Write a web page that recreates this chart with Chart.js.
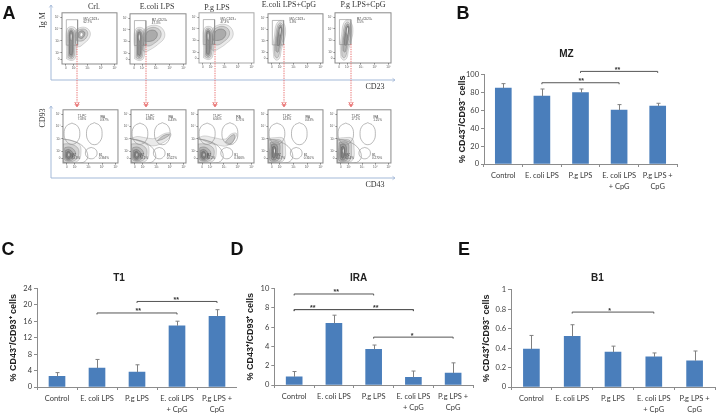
<!DOCTYPE html>
<html><head><meta charset="utf-8">
<script src="https://cdn.jsdelivr.net/npm/chart.js@4"></script>
<style>
html,body{margin:0;padding:0;background:#fff;width:716px;height:417px;overflow:hidden}
#page{position:relative;width:716px;height:417px;filter:blur(.45px)}
canvas{position:absolute}
.t{position:absolute;transform:translate(-50%,-50%);white-space:nowrap;line-height:1}
.s{font-family:"Liberation Serif",serif;font-size:8px;color:#333}
.l{font-family:"Liberation Sans",sans-serif;font-size:18px;font-weight:bold;color:#111}
.r{transform:translate(-50%,-50%) rotate(-90deg)}
svg{position:absolute;left:0;top:0}
</style></head><body><div id="page"></div>
<script>
// ---- bar chart data ----
const categories=["Control","E. coli LPS","P.g LPS",["E. coli LPS","+ CpG"],["P.g LPS +","CpG"]];
const valuesMZ=[85,76,80,60.5,65];
const errorMZ=[5,8,4,6,3];
const ticksMZ=[0,20,40,60,80,100];
const valuesT1=[2.6,4.6,3.6,14.9,17.2];
const errorT1=[0.9,2.1,1.8,1.1,1.6];
const ticksT1=[0,4,8,12,16,20,24];
const valuesIRA=[0.85,6.4,3.7,0.8,1.25];
const errorIRA=[0.55,0.85,0.45,0.65,1.05];
const ticksIRA=[0,2,4,6,8,10];
const valuesB1=[0.39,0.52,0.36,0.31,0.27];
const errorB1=[0.14,0.12,0.06,0.04,0.1];
const ticksB1=[0,0.2,0.4,0.6,0.8,1];
const bracketsMZ=[[1,3,91,2.02,"**"],[2,4,103.7,2.96,"**"]];
const bracketsT1=[[1,3,18,2.03,"**"],[2,4,20.8,2.98,"**"]];
const bracketsIRA=[[0,2,9.45,1.06,"**"],[0,3,7.83,0.47,"**"],[0,3,7.83,2.05,"**"],[2,4,4.97,2.97,"*"]];
const bracketsB1=[[1,3,0.77,1.92,"*"]];
// ---- flow cytometry contours, in decades of fluorescence ----
const columnContours=[
 [[1.45,1.5],[1.45,2.4],[1.42,3.2],[1.5,4.0],[1.8,4.2],[2.15,4.0],[2.25,3.2],[2.2,2.4],[2.1,1.55],[1.8,1.35],[1.45,1.5]],
 [[1.55,1.6],[1.55,2.4],[1.53,3.2],[1.6,3.9],[1.8,4.05],[2.05,3.85],[2.12,3.2],[2.08,2.4],[2.0,1.65],[1.8,1.48],[1.55,1.6]],
 [[1.63,1.75],[1.63,2.4],[1.62,3.2],[1.66,3.8],[1.8,3.93],[1.95,3.75],[1.99,3.2],[1.97,2.4],[1.93,1.8],[1.8,1.62],[1.63,1.75]],
 [[1.68,1.9],[1.68,2.6],[1.67,3.3],[1.7,3.7],[1.8,3.82],[1.9,3.65],[1.92,3.2],[1.9,2.5],[1.88,1.95],[1.8,1.78],[1.68,1.9]]];
const columnCore=[[1.77,3.15],[1.76,3.45],[1.8,3.62],[1.84,3.45],[1.83,3.15],[1.8,3.0],[1.77,3.15]];
const lobeSmall=[
 [[2.1,2.8],[2.1,3.8],[2.4,4.1],[2.9,4.1],[3.2,3.7],[3.1,3.2],[2.7,2.75],[2.35,2.5],[2.1,2.8]],
 [[2.2,3.0],[2.2,3.75],[2.5,3.98],[2.85,3.95],[3.02,3.65],[2.9,3.25],[2.6,3.0],[2.2,3.0]],
 [[2.32,3.3],[2.35,3.7],[2.6,3.85],[2.8,3.7],[2.75,3.4],[2.55,3.2],[2.32,3.3]]];
const lobeCore=[[2.45,3.5],[2.52,3.68],[2.64,3.62],[2.62,3.42],[2.5,3.38],[2.45,3.5]];
const lobeLarge=[
 [[2.0,2.3],[2.1,3.9],[2.5,4.3],[3.1,4.35],[3.55,3.95],[3.6,3.3],[3.1,2.7],[2.6,2.3],[2.2,2.1],[2.0,2.3]],
 [[2.1,2.7],[2.2,3.8],[2.55,4.15],[3.05,4.15],[3.35,3.8],[3.3,3.3],[2.9,2.85],[2.5,2.6],[2.1,2.7]],
 [[2.2,3.0],[2.3,3.7],[2.6,3.95],[2.95,3.9],[3.1,3.6],[2.95,3.2],[2.6,3.0],[2.2,3.0]]];
const tallContours=[
 [[1.55,1.5],[1.5,2.5],[1.6,3.5],[1.72,4.4],[2.0,4.75],[2.3,4.5],[2.42,3.8],[2.3,3.0],[2.1,2.2],[1.98,1.5],[1.75,1.3],[1.55,1.5]],
 [[1.62,1.7],[1.6,2.5],[1.7,3.5],[1.82,4.3],[2.02,4.58],[2.22,4.35],[2.3,3.8],[2.2,3.0],[2.02,2.3],[1.9,1.65],[1.75,1.5],[1.62,1.7]],
 [[1.7,2.1],[1.7,2.8],[1.8,3.6],[1.9,4.2],[2.04,4.4],[2.15,4.2],[2.18,3.7],[2.08,3.0],[1.95,2.4],[1.85,2.0],[1.7,2.1]],
 [[1.8,2.6],[1.82,3.2],[1.92,3.8],[2.0,4.2],[2.08,4.22],[2.1,3.8],[2.02,3.2],[1.94,2.6],[1.8,2.6]]];
const tallCore=[[1.97,3.7],[2.0,4.1],[2.06,4.08],[2.05,3.7],[2.0,3.45],[1.97,3.7]];
const blobContours=[
 [[1.12,3.0],[1.7,2.9],[2.3,2.6],[2.45,2.0],[2.25,1.25],[1.5,1.05],[1.12,1.1],[1.12,3.0]],
 [[1.12,2.6],[1.6,2.6],[2.15,2.35],[2.3,1.9],[2.1,1.35],[1.5,1.12],[1.12,1.2],[1.12,2.6]],
 [[1.25,2.3],[1.6,2.35],[1.95,2.1],[2.05,1.75],[1.85,1.35],[1.45,1.22],[1.22,1.4],[1.25,2.3]],
 [[1.32,2.1],[1.55,2.15],[1.8,1.95],[1.85,1.65],[1.7,1.4],[1.45,1.32],[1.3,1.5],[1.32,2.1]],
 [[1.4,1.95],[1.55,2.0],[1.68,1.8],[1.68,1.55],[1.52,1.42],[1.38,1.55],[1.4,1.95]]];
const blobCore=[[1.5,1.7],[1.55,1.86],[1.6,1.72],[1.56,1.58],[1.5,1.7]];
const squareContours=[
 [[1.12,3.05],[1.6,3.1],[2.25,3.05],[2.4,2.3],[2.3,1.3],[1.6,1.05],[1.12,1.1],[1.12,3.05]],
 [[1.15,2.9],[1.6,2.95],[2.1,2.85],[2.2,2.2],[2.1,1.3],[1.6,1.12],[1.15,1.18],[1.15,2.9]],
 [[1.28,2.7],[1.6,2.78],[1.95,2.65],[2.0,2.0],[1.9,1.35],[1.55,1.2],[1.25,1.3],[1.28,2.7]],
 [[1.38,2.55],[1.6,2.6],[1.8,2.45],[1.82,1.9],[1.72,1.4],[1.5,1.3],[1.35,1.45],[1.38,2.55]],
 [[1.45,2.35],[1.6,2.4],[1.7,2.2],[1.68,1.7],[1.58,1.45],[1.45,1.55],[1.45,2.35]]];
const squareCore=[[1.55,2.05],[1.6,2.25],[1.64,2.05],[1.6,1.8],[1.55,2.05]];
const streakWide=[
 [[1.12,3.05],[1.9,2.75],[2.6,2.45],[3.3,2.6],[3.95,3.1],[4.05,3.45],[3.6,3.45],[2.9,3.05],[2.2,3.1],[1.6,3.2],[1.12,3.05]],
 [[3.05,2.85],[3.5,3.0],[3.95,3.35],[3.55,3.3],[3.05,2.85]]];
const streakNarrow=[
 [[1.12,3.1],[1.9,2.7],[2.6,2.5],[3.2,2.45],[3.75,2.95],[3.9,3.45],[3.5,3.4],[3.1,3.0],[2.3,3.1],[1.6,3.25],[1.12,3.1]],
 [[3.1,2.75],[3.5,2.6],[3.75,3.0],[3.75,3.35],[3.4,3.15],[3.1,2.75]]];
const gateRect=[[1.44,2.64],[1.44,4.78],[2.27,4.78],[2.27,2.64],[1.44,2.64]];
const gateT1=[[1.78,4.29],[2.19,4.04],[2.36,3.43],[2.19,2.82],[1.78,2.57],[1.37,2.82],[1.2,3.43],[1.37,4.04],[1.78,4.29]];
const gateIRA=[[3.43,4.32],[3.84,4.06],[4.0,3.43],[3.84,2.8],[3.43,2.54],[3.02,2.8],[2.85,3.43],[3.02,4.06],[3.43,4.32]];
const gateB1=[[3.2,2.32],[3.5,2.18],[3.63,1.86],[3.5,1.54],[3.2,1.4],[2.9,1.54],[2.77,1.86],[2.9,2.18],[3.2,2.32]];
const gateMZ=[[1.12,3.0],[1.8,2.85],[2.6,2.4],[2.95,1.6],[2.6,1.1],[1.7,1.05],[1.12,1.1]];
const flowTicksX=[1.41,2,3,4,5];
const flowTicksY=[1.44,2,3,4,5];
const flowTickLabels=["0","10²","10³","10⁴","10⁵"];
const topLabels=["62.7%","47.3%","47.3%","5.8%","3.5%"];
const t1Labels=["7.03%","6.88%","6.06%","14.8%","17.1%"];
const iraLabels=["0.97%","6.43%","3.71%","0.83%","1.25%"];
const mzLabels=["85.3%","76.1%","80.2%","60.7%","65.4%"];
const b1Labels=["0.394%","0.522%","0.366%","0.310%","0.270%"];

Chart.defaults.animation=false;
Chart.defaults.responsive=false;
const page=document.getElementById('page');
function addCanvas(l,t,w,h){
  const c=document.createElement('canvas');c.width=w;c.height=h;
  c.style.cssText=`left:${l}px;top:${t}px;width:${w}px;height:${h}px`;
  page.appendChild(c);return c;
}
function addText(cls,txt,x,y){
  const d=document.createElement('div');d.className='t '+cls;d.textContent=txt;
  d.style.left=x+'px';d.style.top=y+'px';page.appendChild(d);
}
// ---- bars ----
const barDeco={id:'barDeco',afterDatasetsDraw(ch,a,o){
  const x=ch.scales.x,y=ch.scales.y,c=ch.ctx;c.save();
  c.strokeStyle='#808080';c.lineWidth=1;
  o.values.forEach((v,i)=>{
    const px=Math.round(x.getPixelForValue(i))+.5,top=y.getPixelForValue(v+o.errors[i]),b=y.getPixelForValue(v);
    c.beginPath();c.moveTo(px,b);c.lineTo(px,top);c.moveTo(px-2,top);c.lineTo(px+2,top);c.stroke();
  });
  c.strokeStyle='#555';c.fillStyle='#333';c.font='bold 7px "Liberation Sans"';c.textAlign='center';c.textBaseline='middle';
  o.brackets.forEach(([p,q,val,at,txt])=>{
    const a1=x.getPixelForValue(p),a2=x.getPixelForValue(q),py=y.getPixelForValue(val);
    c.beginPath();c.moveTo(a1,py+1.5);c.lineTo(a1,py);c.lineTo(a2,py);c.lineTo(a2,py+1.5);c.stroke();
    c.fillText(txt,x.getPixelForValue(at),py-1.5);
  });
  c.restore();
}};
function barChart(g){
  const cx=g.titleX,hw=Math.max(cx-(g.yTitleX-7),g.right-cx),left=Math.round(cx-hw),width=Math.round(2*hw);
  const titleTop=g.titleY-6,bottomH=30;
  const h=Math.round(g.zero-titleTop+bottomH);
  const c=addCanvas(left,titleTop,width,h);
  const W=g.axis-left;
  new Chart(c,{type:'bar',plugins:[barDeco],
   data:{labels:categories,datasets:[{data:g.values,backgroundColor:'#4a7ebb',barThickness:16}]},
   options:{
    layout:{padding:{left:0,right:left+width-g.right,top:0,bottom:0}},
    plugins:{legend:{display:false},tooltip:{enabled:false},
      barDeco:{values:g.values,errors:g.errors,brackets:g.brackets},
      title:{display:true,text:g.title,color:'#222',font:{family:'"Liberation Sans"',size:10,weight:'bold',lineHeight:1.2},
             padding:{top:0,bottom:g.top-titleTop-12}}},
    scales:{
     x:{afterFit(s){s.height=bottomH},grid:{offset:true,drawOnChartArea:false,color:'#8c8c8c',tickLength:3},
        border:{color:'#8c8c8c'},
        ticks:{maxRotation:0,autoSkip:false,padding:3.5,color:'#3a3a3a',font:{family:'Lato',size:7.5,lineHeight:1.45}}},
     y:{min:0,max:g.ticks[g.ticks.length-1],afterFit(s){s.width=W},
        afterBuildTicks(s){s.ticks=g.ticks.map(v=>({value:v}))},
        grid:{drawOnChartArea:false,color:'#8c8c8c',tickLength:3},border:{color:'#8c8c8c'},
        ticks:{padding:2,color:'#3a3a3a',font:{family:'Lato',size:7.5},callback:v=>String(v)},
        title:{display:true,text:g.yTitle,color:'#222',padding:{top:g.yTitleX-left-5.5,bottom:0},
               font:{family:'"Liberation Sans"',size:9,weight:'bold',lineHeight:1.2}}}
    }}});
}
barChart({title:'MZ',yTitle:'% CD43⁻/CD93⁻ cells',values:valuesMZ,errors:errorMZ,ticks:ticksMZ,brackets:bracketsMZ,
  axis:484,right:677,top:74.7,zero:164.3,titleX:569,titleY:54,yTitleX:463});
barChart({title:'T1',yTitle:'% CD43⁻/CD93⁺ cells',values:valuesT1,errors:errorT1,ticks:ticksT1,brackets:bracketsT1,
  axis:37,right:237,top:288.3,zero:387,titleX:119,titleY:278,yTitleX:14});
barChart({title:'IRA',yTitle:'% CD43⁺/CD93⁺ cells',values:valuesIRA,errors:errorIRA,ticks:ticksIRA,brackets:bracketsIRA,
  axis:274.3,right:473,top:288.7,zero:385.3,titleX:367,titleY:278,yTitleX:251});
barChart({title:'B1',yTitle:'% CD43⁺/CD93⁻ cells',values:valuesB1,errors:errorB1,ticks:ticksB1,brackets:bracketsB1,
  axis:511,right:715,top:289.7,zero:387,titleX:598,titleY:278,yTitleX:487});
// ---- flow plots ----
const flowDeco={id:'flowDeco',afterDraw(ch,a,o){
  const {left,top,width,height}=ch.chartArea,c=ch.ctx,x=ch.scales.x,y=ch.scales.y;c.save();
  c.strokeStyle=o.frame;c.lineWidth=1;c.strokeRect(left,top,width,height);
  c.fillStyle='#444';c.font='3px "Liberation Sans"';c.textBaseline='middle';
  o.notes.forEach(([vx,vy,tx])=>c.fillText(tx,x.getPixelForValue(vx),y.getPixelForValue(vy)));
  c.restore();
}};
function contourSets(lists,core){
  const n=lists.length,out=[];
  lists.forEach((pts,i)=>out.push({data:pts.map(p=>({x:p[0],y:p[1]})),showLine:true,tension:.4,pointRadius:0,
    borderColor:'rgba(70,70,70,'+(.4+.35*i/n)+')',borderWidth:.5,fill:'shape',
    backgroundColor:'rgba(50,50,50,'+(.1+.18*i/n)+')'}));
  if(core)out.push({data:core.map(p=>({x:p[0],y:p[1]})),showLine:true,tension:.4,pointRadius:0,
    borderColor:'rgba(70,70,70,.5)',borderWidth:.4,fill:'shape',backgroundColor:'#fff'});
  return out;
}
function gateSet(pts,tension){
  return {data:pts.map(p=>({x:p[0],y:p[1]})),showLine:true,tension:tension,pointRadius:0,
    borderColor:'#8b8b8b',borderWidth:.6,fill:false};
}
function flowChart(f,sets,notes){
  const L=10,T=2,B=9,R=1;
  const c=addCanvas(f[0]-L,f[1]-T,f[2]-f[0]+L+R,f[3]-f[1]+T+B);
  new Chart(c,{type:'scatter',plugins:[flowDeco],
   data:{datasets:sets.slice().reverse()},
   options:{layout:{padding:{top:T,right:R}},
    plugins:{legend:{display:false},tooltip:{enabled:false},flowDeco:{frame:f[4]||'#8a8a8a',notes}},
    scales:{
     x:{min:1.12,max:5.17,afterFit(s){s.height=B},afterBuildTicks(s){s.ticks=flowTicksX.map(v=>({value:v}))},
        grid:{drawOnChartArea:false,tickLength:1.5,color:'#777'},border:{display:false},
        ticks:{padding:1,maxRotation:0,autoSkip:false,color:'#555',font:{family:'"Liberation Sans"',size:3},
               callback:(v,i)=>flowTickLabels[i]}},
     y:{min:1.06,max:5.36,afterFit(s){s.width=L},afterBuildTicks(s){s.ticks=flowTicksY.map(v=>({value:v}))},
        grid:{drawOnChartArea:false,tickLength:1.5,color:'#777'},border:{display:false},
        ticks:{padding:1,autoSkip:false,color:'#555',font:{family:'"Liberation Sans"',size:3},
               callback:(v,i)=>flowTickLabels[i]}}
    }}});
}
const topFrames=[[62,12,117,64],[130,13,186,64],[199,12,254,63,'#a8a8a8'],[268,13,323,63],[335,12,391,63]];
const botFrames=[[63,109,118,163],[131,109,186,163],[198,109,254,163],[268,109,323,163],[337,109,391,163]];
topFrames.forEach((f,i)=>{
  let sets;
  if(i===0) sets=[...contourSets(lobeSmall,lobeCore),...contourSets(columnContours,columnCore)];
  else if(i<3) sets=[...contourSets(lobeLarge),...contourSets(columnContours,columnCore)];
  else sets=contourSets(tallContours,tallCore);
  sets.push(gateSet(gateRect,0));
  flowChart(f,sets,[[2.7,4.85,'MZ+CD23+'],[2.7,4.6,topLabels[i]]]);
});
botFrames.forEach((f,i)=>{
  let sets=[];
  if(i===1) sets.push(...contourSets(streakWide));
  if(i===2) sets.push(...contourSets(streakNarrow));
  if(i<3) sets.push(...contourSets(blobContours,blobCore));
  else sets.push(...contourSets(squareContours,squareCore));
  sets.push(gateSet(gateT1,.45),gateSet(gateIRA,.45),gateSet(gateB1,.45),gateSet(gateMZ,.4));
  flowChart(f,sets,[[2.2,4.85,'T1-PC'],[2.2,4.62,t1Labels[i]],[3.85,4.75,'IRA'],[3.85,4.52,iraLabels[i]],
    [3.75,1.7,'B1'],[3.75,1.45,b1Labels[i]],[1.75,1.7,'MZ'],[1.75,1.45,mzLabels[i]]]);
});
// ---- panel A furniture ----
const arrowXs=[77,146,215,284,351];
const NS='http://www.w3.org/2000/svg';
const svg=document.createElementNS(NS,'svg');svg.setAttribute('width',716);svg.setAttribute('height',417);
function el(name,attrs){const e=document.createElementNS(NS,name);for(const k in attrs)e.setAttribute(k,attrs[k]);svg.appendChild(e);}
[[51,5,51,80,395,80],[51,106,51,178,395,178]].forEach(a=>{
  el('polyline',{points:`${a[0]},${a[1]} ${a[2]},${a[3]} ${a[4]},${a[5]}`,fill:'none',stroke:'#a3b9d8','stroke-width':1});
  el('polyline',{points:`${a[0]-1.7},${a[1]+2.5} ${a[0]},${a[1]} ${a[0]+1.7},${a[1]+2.5}`,fill:'none',stroke:'#a3b9d8','stroke-width':.8});
  el('polyline',{points:`${a[4]-2.5},${a[5]-1.7} ${a[4]},${a[5]} ${a[4]-2.5},${a[5]+1.7}`,fill:'none',stroke:'#a3b9d8','stroke-width':.8});
});
arrowXs.forEach(x=>{
  el('line',{x1:x,y1:44,x2:x,y2:106,stroke:'#e86a6a','stroke-width':.9,'stroke-dasharray':'1.4 1'});
  el('polyline',{points:`${x-2.2},${102} ${x},${106} ${x+2.2},${102}`,fill:'none',stroke:'#e86a6a','stroke-width':1});
  el('polyline',{points:`${x-2.2},${104} ${x},${107} ${x+2.2},${104}`,fill:'none',stroke:'#e86a6a','stroke-width':.8});
});
page.appendChild(svg);
addText('s','Crl.',94,7);addText('s','E.coli LPS',157,7);addText('s','P.g LPS',217,8);
addText('s','E.coli LPS+CpG',289,5);addText('s','P.g LPS+CpG',363,5);
addText('s','CD23',375,87);addText('s','CD43',375,185);
addText('s r','Ig M',43,20);addText('s r','CD93',43,118);
addText('l','A',9,13);addText('l','B',463,13);addText('l','C',8,249);addText('l','D',237,249);addText('l','E',464,249);
</script></body></html>
